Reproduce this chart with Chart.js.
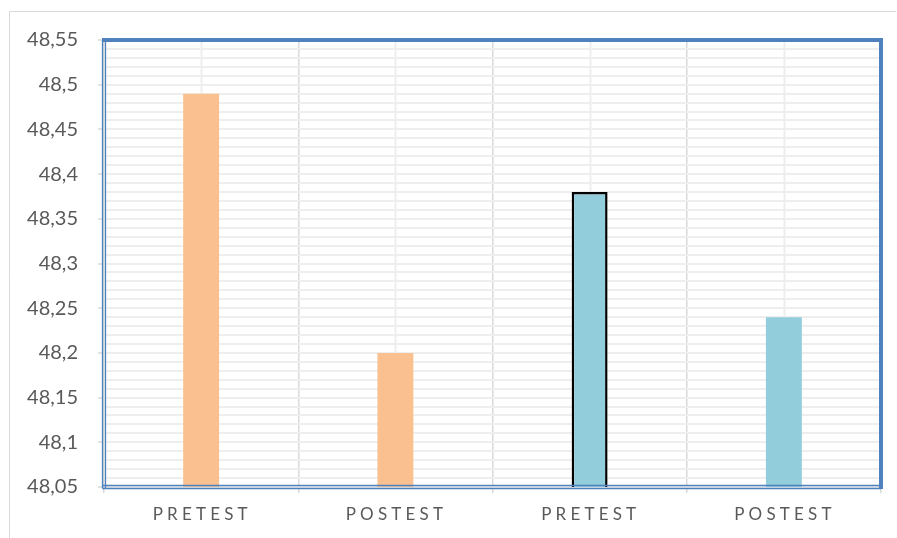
<!DOCTYPE html>
<html>
<head>
<meta charset="utf-8">
<script src="https://cdn.jsdelivr.net/npm/chart.js@4/dist/chart.umd.min.js"></script>
<style>
  html, body { margin: 0; padding: 0; background: #ffffff; }
  #wrap { width: 897px; height: 538px; position: relative; }
</style>
</head>
<body>
<div id="wrap"><canvas id="c" width="897" height="538"></canvas></div>
<script>
// Group means, pretest / posttest for two groups
const categories = ['PRETEST', 'POSTEST', 'PRETEST', 'POSTEST'];
const meanValues = [48.49, 48.20, 48.38, 48.24];
const barColors = ['#FAC090', '#FAC090', '#92CDDC', '#92CDDC'];
const barBorderWidths = [0, 0, 2.5, 0];

// Value axis: labelled every 0.05, minor gridlines every 0.01
const yMin = 48.05;
const yMax = 48.55;
const yMinorStep = 0.01;
const yTickLabels = ['48,05', '48,1', '48,15', '48,2', '48,25', '48,3', '48,35', '48,4', '48,45', '48,5', '48,55'];

const AXIS_BLUE = '#4F81BD';
const TEXT_GREY = '#595959';

function majorIndex(value) {
  const hundredths = Math.round((value - yMin) * 100);
  return hundredths % 5 === 0 ? hundredths / 5 : -1;
}

// Frame, category centre lines, outer border and spaced category labels
const decorations = {
  id: 'decorations',
  beforeDatasetsDraw(chart) {
    const { ctx, chartArea, scales } = chart;
    ctx.save();
    ctx.strokeStyle = '#eeeeee';
    ctx.lineWidth = 2;
    categories.forEach((_, i) => {
      const x = Math.round(scales.x.getPixelForValue(i)) + 0.5;
      ctx.beginPath();
      ctx.moveTo(x, chartArea.top);
      ctx.lineTo(x, chartArea.bottom);
      ctx.stroke();
    });
    ctx.restore();
  },
  afterDraw(chart) {
    const { ctx, chartArea, scales } = chart;
    const { left, right, top, bottom } = chartArea;
    ctx.save();
    // outer chart border
    ctx.strokeStyle = '#d9d9d9';
    ctx.lineWidth = 1;
    ctx.beginPath();
    ctx.moveTo(9.5, 538);
    ctx.lineTo(9.5, 11.5);
    ctx.lineTo(896, 11.5);
    ctx.stroke();

    // plot frame: heavy top and right, double rule on left and bottom
    ctx.strokeStyle = AXIS_BLUE;
    ctx.lineWidth = 4;
    ctx.beginPath();
    ctx.moveTo(left - 2, top);
    ctx.lineTo(right, top);
    ctx.lineTo(right, bottom + 2);
    ctx.stroke();

    ctx.lineWidth = 1.3;
    [-1.5, 1.5].forEach((d) => {
      ctx.beginPath();
      ctx.moveTo(left + d, top);
      ctx.lineTo(left + d, bottom + 1.5);
      ctx.stroke();
      ctx.beginPath();
      ctx.moveTo(left - 1.5, bottom + d);
      ctx.lineTo(right, bottom + d);
      ctx.stroke();
    });

    // category labels with wide letter spacing
    const spacing = 4.2;
    ctx.fillStyle = TEXT_GREY;
    ctx.font = '17px Lato, "Open Sans", sans-serif';
    ctx.letterSpacing = spacing + 'px';
    ctx.textAlign = 'center';
    ctx.textBaseline = 'middle';
    categories.forEach((label, i) => {
      const x = scales.x.getPixelForValue(i);
      ctx.fillText(label, x + spacing / 2 - 1, 515);
    });
    ctx.restore();
  }
};

new Chart(document.getElementById('c'), {
  type: 'bar',
  data: {
    labels: categories,
    datasets: [{
      data: meanValues,
      backgroundColor: barColors,
      borderColor: '#000000',
      borderWidth: barBorderWidths,
      borderSkipped: 'start',
      categoryPercentage: 1.0,
      barPercentage: 0.185
    }]
  },
  options: {
    responsive: false,
    animation: false,
    devicePixelRatio: 1,
    layout: { padding: { top: 40, right: 16, bottom: 0, left: 0 } },
    plugins: {
      legend: { display: false },
      tooltip: { enabled: false }
    },
    scales: {
      x: {
        type: 'category',
        grid: {
          offset: true,
          color: '#d9d9d9',
          lineWidth: 1.5,
          drawTicks: true,
          tickLength: 6
        },
        border: { display: false },
        ticks: { display: false },
        afterFit(scale) { scale.height = 51; }
      },
      y: {
        type: 'linear',
        min: yMin,
        max: yMax,
        grid: {
          color: '#eeeeee',
          lineWidth: 2,
          drawTicks: true,
          tickLength: 6,
          tickColor: (ctx) => majorIndex(ctx.tick.value) >= 0 ? '#d9d9d9' : 'rgba(0,0,0,0)',
          tickWidth: 1.5
        },
        border: { display: false },
        ticks: {
          stepSize: yMinorStep,
          autoSkip: false,
          padding: 20,
          color: TEXT_GREY,
          font: { family: 'Lato, "Open Sans", sans-serif', size: 20 },
          callback(value) {
            const k = majorIndex(value);
            return k >= 0 ? yTickLabels[k] : '';
          }
        },
        afterFit(scale) { scale.width = 104; }
      }
    }
  },
  plugins: [decorations]
});
</script>
</body>
</html>
